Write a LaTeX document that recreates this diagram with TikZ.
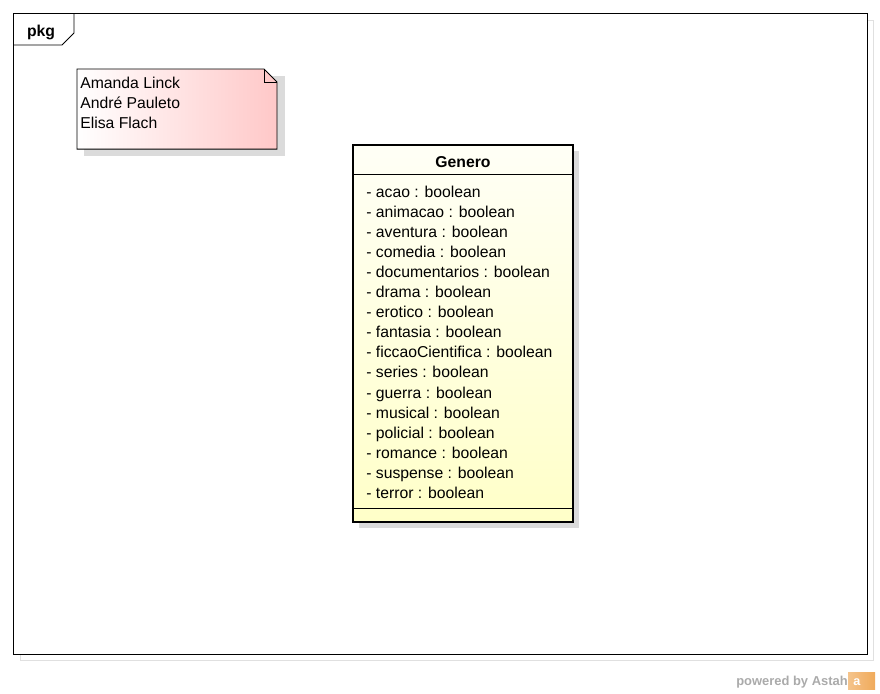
\documentclass[tikz,border=0pt]{standalone}
\usepackage{fontspec}
\setmainfont{Liberation Sans}
\usetikzlibrary{calc,positioning}

\definecolor{noteRed}{RGB}{255,200,200}
\definecolor{classTop}{RGB}{255,255,246}
\definecolor{classBot}{RGB}{255,255,200}
\definecolor{astahGray}{RGB}{170,170,170}
\definecolor{astahOrange}{RGB}{240,170,90}

\begin{document}
\begin{tikzpicture}
  [x=0.025cm, y=-0.025cm,
   every node/.style={font=\fontsize{11.2}{13}\selectfont, inner sep=0pt},
   attr/.style={anchor=base west},
   shadow/.style={fill=black!14}]

  \useasboundingbox (0,0) rectangle (880,693);

  % package frame
  \draw [black!12] (20,20) rectangle (873,660);
  \fill [white] (13,13) rectangle (867,654);
  \draw [line width=0.7pt] (13,13) rectangle (867,654);
  \draw [line width=0.7pt] (13,45) -- (62,45) -- (74,33) -- (74,13);
  \node [anchor=base] (pkg) at (41,36) {\bfseries pkg};

  % note
  \coordinate (N) at (77,69);
  \fill [shadow] ($ (N)+(7,7) $) rectangle ++(201,80);
  \shade [left color=white, right color=noteRed]
    (N) -- ++(187,0) -- ++(13,13) -- ++(0,67) -- ++(-200,0) -- cycle;
  \draw [line width=0.7pt]
    (N) -- ++(187,0) -- ++(13,13) -- ++(0,67) -- ++(-200,0) -- cycle;
  \draw [line width=0.7pt] (264,69) -- (264,82) -- (277,82);
  \node [attr] (author1) at (80,88) {Amanda Linck};
  \node [attr] (author2) at (80,108) {André Pauleto};
  \node [attr] (author3) at (80,128) {Elisa Flach};

  % class Genero
  \coordinate (A) at (353,145);
  \coordinate (B) at (573,522);
  \fill [shadow] ($ (A)+(6,6) $) rectangle ($ (B)+(6,6) $);
  \shade [top color=classTop, bottom color=classBot] (A) rectangle (B);
  \draw [line width=0.7pt] (353,174) -- (573,174);
  \draw [line width=0.7pt] (353,508) -- (573,508);
  \draw [line width=1.8pt] (A) rectangle (B);
  \node [anchor=base] (genero) at (463,167) {\bfseries Genero};

  \foreach \name [count=\i from 0] in {acao,animacao,aventura,comedia,
      documentarios,drama,erotico,fantasia,ficcaoCientifica,series,guerra,
      musical,policial,romance,suspense,terror}
    \node [attr] (attr\i) at (366,197+20.1*\i) {- \name\ : boolean};

  % powered by
  \node [anchor=base west, font=\fontsize{9.2}{11}\selectfont\bfseries,
    text=astahGray] (powered) at (736,685) {powered by Astah};
  \shade [left color=astahOrange!70, right color=astahOrange]
    (848,672) rectangle (875,689);
  \node [text=white, font=\fontsize{9}{10}\selectfont\bfseries] (logo)
    at (857,682) {a};

\end{tikzpicture}
\end{document}
